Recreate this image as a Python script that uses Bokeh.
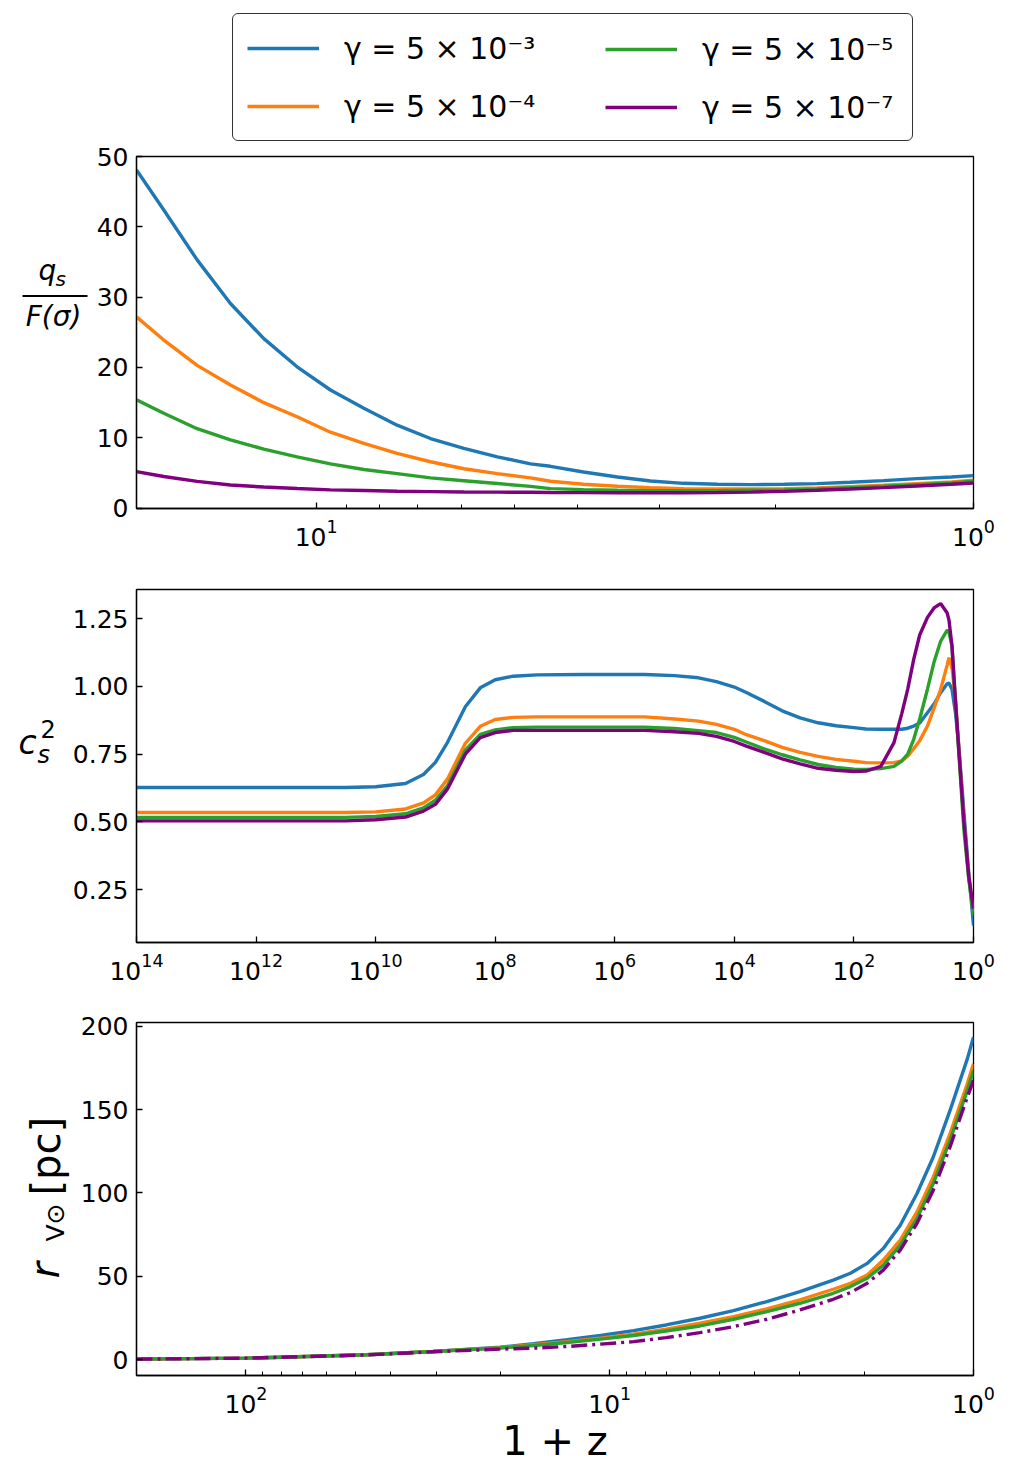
import numpy as np
from bokeh.plotting import figure
from bokeh.models import (Range1d, FixedTicker, LogTickFormatter, NumeralTickFormatter,
                          Label, Legend, LegendItem, BoxAnnotation)
from bokeh.layouts import column, row
from bokeh.embed import file_html
from bokeh.resources import INLINE

FONT = "DejaVu Sans"
COLORS = ["#1f77b4", "#ff7f0e", "#2ca02c", "#800080"]
SERIES_LABELS = ["γ = 5 × 10⁻³", "γ = 5 × 10⁻⁴", "γ = 5 × 10⁻⁵", "γ = 5 × 10⁻⁷"]

# ---------------- panel 1: q_s / F(sigma) vs 1+z ----------------
q_x = [18.76, 17.05, 15.17, 13.50, 12.01, 10.69, 9.51, 8.46, 7.53, 6.70, 5.96, 5.30, 4.72,
       4.40, 3.92, 3.48, 3.10, 2.76, 2.45, 2.18, 1.94, 1.73, 1.54, 1.37, 1.22, 1.08, 1.0]
q_blue = [48.1, 42.4, 35.3, 29.1, 24.1, 20.1, 16.8, 14.2, 11.8, 9.9, 8.5, 7.3, 6.3,
          5.95, 5.14, 4.43, 3.86, 3.53, 3.39, 3.35, 3.39, 3.49, 3.68, 3.92, 4.20, 4.43, 4.63]
q_orange = [27.2, 23.9, 20.3, 17.5, 15.0, 13.0, 10.8, 9.2, 7.8, 6.6, 5.6, 4.9, 4.3,
            3.82, 3.39, 3.11, 2.92, 2.78, 2.72, 2.72, 2.78, 2.87, 3.06, 3.25, 3.49, 3.72, 3.96]
q_green = [15.4, 13.5, 11.3, 9.7, 8.4, 7.3, 6.3, 5.5, 4.9, 4.3, 3.9, 3.5, 3.1,
           2.78, 2.63, 2.54, 2.49, 2.49, 2.49, 2.54, 2.58, 2.72, 2.92, 3.11, 3.35, 3.58, 3.82]
q_purple = [5.2, 4.5, 3.8, 3.3, 3.0, 2.8, 2.6, 2.5, 2.4, 2.35, 2.3, 2.28, 2.25,
            2.23, 2.21, 2.20, 2.20, 2.20, 2.22, 2.28, 2.39, 2.54, 2.72, 2.92, 3.15, 3.39, 3.58]
q_yticks = [0, 10, 20, 30, 40, 50]

# ---------------- panel 2: c_s^2 vs 1+z (x given as log10(1+z)) ----------------
cs_log1pz = [14, 12, 10.5, 10, 9.5, 9.2, 9.0, 8.8, 8.5, 8.25,
             8.0, 7.7, 7.3, 6.5, 5.5, 5.0, 4.6, 4.3, 4.0, 3.8,
             3.5, 3.2, 2.9, 2.6, 2.3, 2.0, 1.8, 1.55, 1.33, 1.2,
             1.1, 1.0, 0.9, 0.77, 0.66, 0.55, 0.44, 0.41, 0.36, 0.3,
             0.25, 0.16, 0.08, 0.0]
cs_blue = [0.627, 0.627, 0.627, 0.630, 0.642, 0.675, 0.720, 0.793, 0.925, 0.995,
           1.025, 1.038, 1.043, 1.044, 1.044, 1.040, 1.032, 1.018, 0.998, 0.978,
           0.945, 0.910, 0.884, 0.866, 0.855, 0.848, 0.843, 0.842, 0.842, 0.842,
           0.846, 0.854, 0.865, 0.903, 0.935, 0.977, 1.010, 1.013, 0.990, 0.900,
           0.790, 0.535, 0.314, 0.117]
cs_orange = [0.535, 0.535, 0.535, 0.537, 0.548, 0.570, 0.600, 0.658, 0.790, 0.853,
             0.878, 0.886, 0.888, 0.888, 0.888, 0.880, 0.872, 0.860, 0.842, 0.822,
             0.800, 0.775, 0.757, 0.742, 0.731, 0.724, 0.719, 0.718, 0.719, 0.725,
             0.743, 0.770, 0.800, 0.854, 0.920, 0.989, 1.080, 1.106, 1.070, 0.950,
             0.790, 0.500, 0.300, 0.167]
cs_green = [0.517, 0.517, 0.517, 0.520, 0.530, 0.552, 0.580, 0.633, 0.765, 0.823,
            0.840, 0.848, 0.850, 0.850, 0.850, 0.845, 0.837, 0.830, 0.812, 0.795,
            0.770, 0.748, 0.729, 0.712, 0.701, 0.695, 0.694, 0.697, 0.705, 0.725,
            0.750, 0.805, 0.880, 0.990, 1.090, 1.167, 1.208, 1.200, 1.150, 0.940,
            0.770, 0.470, 0.290, 0.154]
cs_purple = [0.504, 0.504, 0.504, 0.508, 0.518, 0.540, 0.565, 0.621, 0.750, 0.811,
             0.830, 0.838, 0.838, 0.838, 0.838, 0.833, 0.827, 0.816, 0.797, 0.780,
             0.757, 0.733, 0.714, 0.698, 0.691, 0.686, 0.688, 0.705, 0.793, 0.900,
             0.990, 1.100, 1.190, 1.255, 1.290, 1.306, 1.271, 1.245, 1.150, 0.940,
             0.780, 0.500, 0.300, 0.180]
cs_xticks = [1e0, 1e2, 1e4, 1e6, 1e8, 1e10, 1e12, 1e14]
cs_yticks = [0.25, 0.50, 0.75, 1.00, 1.25]

# ---------------- panel 3: r_V [pc] vs 1+z ----------------
r_x = [200, 100, 46.6, 30.6, 20.0, 16.2, 13.1, 10.6, 8.6, 7.0, 5.65, 4.57, 3.70, 3.00,
       2.43, 2.18, 1.96, 1.77, 1.59, 1.43, 1.29, 1.16, 1.04, 1.0]
r_blue = [0.4, 1.0, 3.0, 5.0, 7.5, 9.6, 12.0, 14.6, 17.5, 20.9, 24.9, 29.5, 34.9, 40.9,
          47.8, 51.9, 57.8, 66.8, 80.7, 99.7, 121.6, 149.5, 180.4, 193.4]
r_orange = [0.4, 1.0, 3.0, 5.0, 7.3, 9.0, 10.9, 13.0, 15.4, 18.4, 21.9, 25.9, 30.5, 35.9,
            42.3, 45.9, 50.8, 59.8, 71.8, 88.7, 109.6, 135.6, 165.5, 177.4]
r_green = [0.4, 1.0, 3.0, 5.0, 7.1, 8.6, 10.4, 12.4, 14.6, 17.3, 20.3, 24.3, 28.9, 33.9,
           39.9, 43.9, 48.9, 56.8, 68.8, 84.7, 105.7, 131.6, 161.5, 173.4]
r_purple = [0.4, 1.0, 2.9, 4.8, 6.4, 7.0, 8.0, 9.4, 10.9, 13.3, 16.3, 19.9, 24.3, 29.9,
            36.3, 40.3, 45.9, 53.8, 65.8, 81.8, 101.7, 127.6, 157.5, 167.5]
r_yticks = [0, 50, 100, 150, 200]

FRAME_W = 837
RIGHT = 31
LW = 3.4
MID = 0.345  # distance from baseline to text middle, in em


def make_fig(x_range, y_range, frame_h, left, top, bottom):
    p = figure(x_axis_type="log", x_range=x_range, y_range=y_range,
               frame_width=FRAME_W, frame_height=frame_h,
               min_border_left=left, min_border_right=RIGHT,
               min_border_top=top, min_border_bottom=bottom,
               output_backend="svg", toolbar_location=None)
    p.xgrid.visible = False
    p.ygrid.visible = False
    p.outline_line_color = "black"
    p.outline_line_width = 1.3
    p.outline_line_alpha = 1.0
    p.background_fill_color = "white"
    p.border_fill_color = "white"
    for ax in (p.xaxis[0], p.yaxis[0]):
        ax.axis_line_color = "black"
        ax.axis_line_width = 1.3
        ax.major_tick_line_color = "black"
        ax.minor_tick_line_color = "black"
        ax.major_tick_line_width = 1.3
        ax.minor_tick_line_width = 1.0
        ax.major_tick_in = 6
        ax.major_tick_out = 0
        ax.minor_tick_in = 4
        ax.minor_tick_out = 0
        ax.major_label_text_font = FONT
        ax.major_label_text_font_size = "25px"
        ax.major_label_text_color = "black"
    p.xaxis[0].major_label_standoff = 10
    p.yaxis[0].major_label_standoff = 8
    p.xaxis[0].formatter = LogTickFormatter()
    return p


def blank_fig(w, h, xr=(0, 1), yr=(0, 1)):
    f = figure(frame_width=w, frame_height=h, min_border=0,
               x_range=Range1d(*xr), y_range=Range1d(*yr),
               x_axis_location=None, y_axis_location=None,
               output_backend="svg", toolbar_location=None)
    f.xgrid.visible = False
    f.ygrid.visible = False
    f.outline_line_color = None
    f.background_fill_color = "white"
    f.border_fill_color = "white"
    return f


def lab(p, text, x, y_base, size, italic=False, align="left", angle=0.0):
    """Place text so that its baseline sits at y_base (or x for rotated text)."""
    if angle == 0.0:
        xx, yy = x, y_base + MID * size
    else:  # rotated 90 deg ccw: baseline is a vertical line at x
        xx, yy = x - MID * size, y_base
    p.add_layout(Label(x=xx, y=yy, x_units="screen", y_units="screen", text=text,
                       text_font=FONT, text_font_size=f"{size}px",
                       text_font_style="italic" if italic else "normal",
                       text_align=align, text_baseline="middle",
                       angle=angle, text_color="black"))


# ---------- legend strip (series drawn off-view; only their legend keys show) ----------
LEG_H = 142
leg_fig = blank_fig(1004, LEG_H, xr=(-2000, -1000), yr=(-2000, -1000))
leg_r = [leg_fig.line(q_x, ys, line_color=c, line_width=LW)
         for ys, c in zip([q_blue, q_orange, q_green, q_purple], COLORS)]
leg_common = dict(orientation="vertical", glyph_width=72, glyph_height=40,
                  label_height=40, label_standoff=25, spacing=18, padding=14, margin=0,
                  label_text_font=FONT, label_text_font_size="30px",
                  label_text_color="black")
leg1 = Legend(items=[LegendItem(label=SERIES_LABELS[0], renderers=[leg_r[0]]),
                     LegendItem(label=SERIES_LABELS[1], renderers=[leg_r[1]])],
              location=(232, 1), label_width=554,
              border_line_color="#333333", border_line_width=1.5, border_line_alpha=1.0,
              background_fill_color="white", background_fill_alpha=1.0, **leg_common)
leg2 = Legend(items=[LegendItem(label=SERIES_LABELS[2], renderers=[leg_r[2]]),
                     LegendItem(label=SERIES_LABELS[3], renderers=[leg_r[3]])],
              location=(591, 1), label_width=100,
              border_line_alpha=0.0, background_fill_alpha=0.0, **leg_common)
try:
    leg1.border_radius = 6
except Exception:
    pass
leg_fig.add_layout(leg1)
leg_fig.add_layout(leg2)

# ---------- panel 1 ----------
L1 = 90
F1 = 352
p1 = make_fig(Range1d(18.76, 1.0), Range1d(-0.05, 50.0), F1, 136 - L1, 14, 46)
p1.xaxis[0].ticker = FixedTicker(ticks=[1, 10], minor_ticks=[2, 3, 4, 5, 6, 7, 8, 9])
p1.yaxis[0].ticker = FixedTicker(ticks=q_yticks, minor_ticks=[])
for ys, c in zip([q_blue, q_orange, q_green, q_purple], COLORS):
    p1.line(q_x, ys, line_color=c, line_width=LW)

# label strip whose frame lines up with the panel frame (y measured from frame bottom)
lab1 = blank_fig(L1, F1)
lab(lab1, "q", 38, 228, 28, italic=True)
lab(lab1, "s", 55, 223, 20, italic=True)
lab1.add_layout(BoxAnnotation(left=22, right=87, bottom=211.5, top=213.5,
                              left_units="screen", right_units="screen",
                              top_units="screen", bottom_units="screen",
                              fill_color="black", fill_alpha=1.0, line_alpha=0))
lab(lab1, "F(σ)", 53, 182, 28, italic=True, align="center")

# ---------- panel 2 ----------
L2 = 60
F2 = 353
p2 = make_fig(Range1d(1e14, 1.0), Range1d(0.055, 1.358), F2, 136 - L2, 35, 46)
p2.xaxis[0].ticker = FixedTicker(ticks=cs_xticks, minor_ticks=[])
p2.yaxis[0].ticker = FixedTicker(ticks=cs_yticks, minor_ticks=[])
p2.yaxis[0].formatter = NumeralTickFormatter(format="0.00")
cs_x = [10.0 ** v for v in cs_log1pz]
for ys, c in zip([cs_blue, cs_orange, cs_green, cs_purple], COLORS):
    p2.line(cs_x, ys, line_color=c, line_width=LW)

lab2 = blank_fig(L2, F2)
lab(lab2, "c", 18, 189, 33, italic=True)
lab(lab2, "s", 37, 179, 24, italic=True)
lab(lab2, "2", 40, 205, 24)

# ---------- panel 3 ----------
L3 = 76
F3 = 353
p3 = make_fig(Range1d(200, 1.0), Range1d(-9.4, 202.2), F3, 136 - L3, 34, 46)
p3.xaxis[0].ticker = FixedTicker(ticks=[1, 10, 100],
                                 minor_ticks=[2, 3, 4, 5, 6, 7, 8, 9,
                                              20, 30, 40, 50, 60, 70, 80, 90])
p3.yaxis[0].ticker = FixedTicker(ticks=r_yticks, minor_ticks=[])
for ys, c in zip([r_blue, r_orange, r_green], COLORS[:3]):
    p3.line(r_x, ys, line_color=c, line_width=LW)
p3.line(r_x, r_purple, line_color=COLORS[3], line_width=LW, line_dash="16 5 3 5")
p3.xaxis[0].axis_label = "1 + z"
p3.xaxis[0].axis_label_text_font = FONT
p3.xaxis[0].axis_label_text_font_size = "40px"
p3.xaxis[0].axis_label_text_font_style = "normal"
p3.xaxis[0].axis_label_text_color = "black"
p3.xaxis[0].axis_label_standoff = 2

lab3 = blank_fig(L3, F3)
ANG = np.pi / 2
lab(lab3, "r", 58, 97, 40, italic=True, angle=ANG)
lab(lab3, "V⊙", 64, 134, 25, angle=ANG)
lab(lab3, "[pc]", 59, 180, 40, angle=ANG)

layout = column(leg_fig, row(lab1, p1), row(lab2, p2), row(lab3, p3), spacing=0)
open("out.html", "w").write(file_html(layout, INLINE))
